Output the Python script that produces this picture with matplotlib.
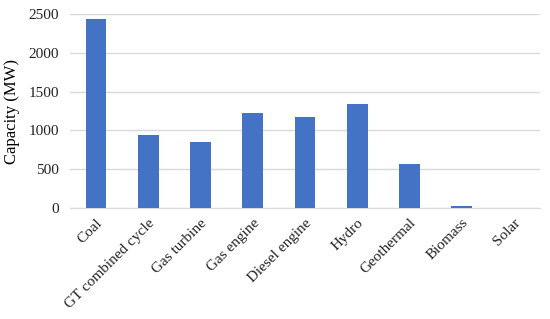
import matplotlib.pyplot as plt

categories = ['Coal', 'GT combined cycle', 'Gas turbine', 'Gas engine', 'Diesel engine',
              'Hydro', 'Geothermal', 'Biomass', 'Solar']
capacity = [2430, 945, 845, 1220, 1170, 1340, 570, 30, 2]

plt.rcParams['font.family'] = ['Liberation Serif', 'DejaVu Serif']

fig = plt.figure(figsize=(5.5, 3.19), dpi=100)
ax = fig.add_axes([0.127, 0.348, 0.855, 0.608])

ax.bar(range(len(categories)), capacity, width=0.4, color='#4472c4', zorder=3)

ax.set_ylim(0, 2500)
ax.set_yticks([0, 500, 1000, 1500, 2000, 2500])
ax.set_xlim(-0.5, len(categories) - 0.5)
ax.set_xticks(range(len(categories)))
ax.set_xticklabels(categories, rotation=45, ha='right', rotation_mode='anchor')
ax.tick_params(axis='both', length=0, labelsize=11, colors='#222222')
ax.tick_params(axis='x', pad=6)
ax.tick_params(axis='y', pad=8)

ax.grid(axis='y', color='#d9d9d9', linewidth=1, zorder=0)
for s in ['top', 'right', 'left']:
    ax.spines[s].set_visible(False)
ax.spines['bottom'].set_color('#d9d9d9')

ax.set_ylabel('Capacity (MW)', fontsize=12, labelpad=6)

fig.savefig('out.png', dpi=100)
